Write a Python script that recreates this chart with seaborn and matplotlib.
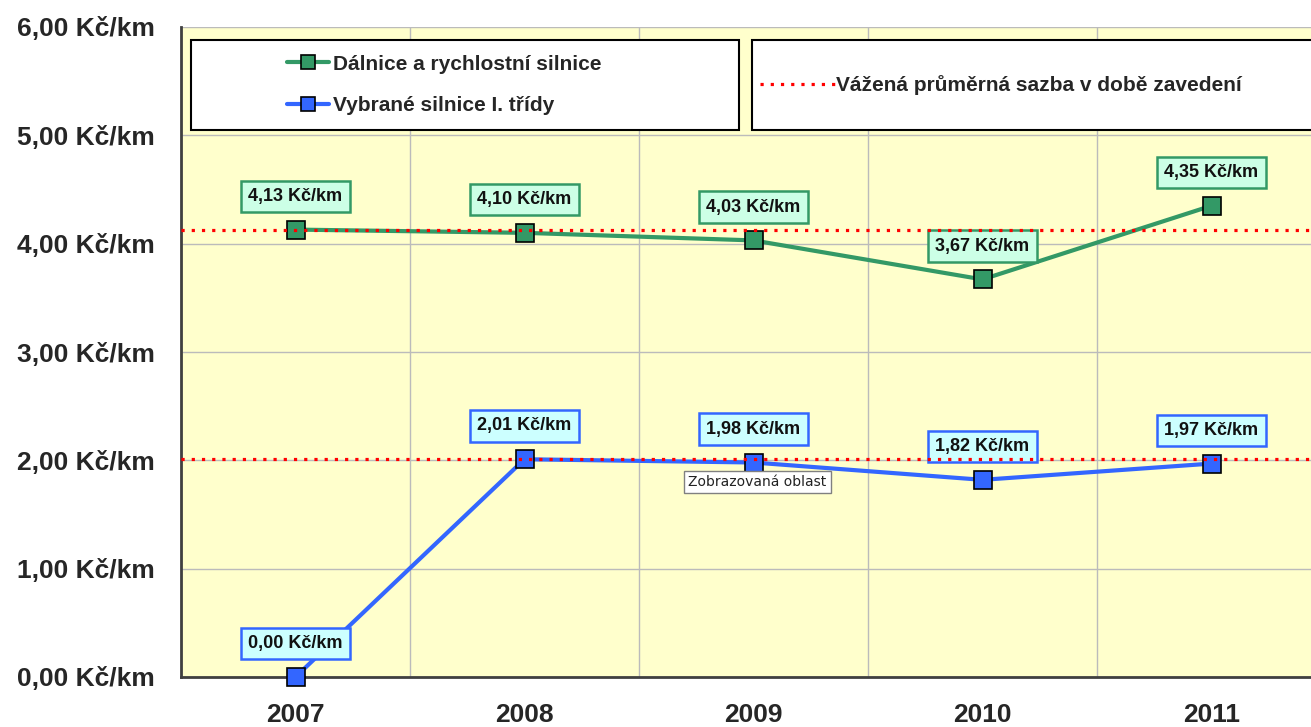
import matplotlib
matplotlib.use("Agg")
import matplotlib.pyplot as plt
import seaborn as sns
import pandas as pd
from matplotlib.patches import Rectangle
from matplotlib.lines import Line2D

# ---- data ----
years = [2007, 2008, 2009, 2010, 2011]
dalnice = [4.13, 4.10, 4.03, 3.67, 4.35]
silnice = [0.00, 2.01, 1.98, 1.82, 1.97]
ref_dalnice = 4.13
ref_silnice = 2.01
series_names = ["Dálnice a rychlostní silnice", "Vybrané silnice I. třídy"]
ref_label = "Vážená průměrná sazba v době zavedení"
y_ticks = [0, 1, 2, 3, 4, 5, 6]
tooltip_text = "Zobrazovaná oblast"


def fmt(v):
    return f"{v:.2f}".replace(".", ",") + " Kč/km"


sns.set_style("white")
plt.rcParams["font.family"] = ["Liberation Sans", "DejaVu Sans"]

green = "#339966"
blue = "#3366FF"
palette = {series_names[0]: green, series_names[1]: blue}

df = pd.DataFrame({
    "year": years * 2,
    "value": dalnice + silnice,
    "series": [series_names[0]] * len(years) + [series_names[1]] * len(years),
})

fig = plt.figure(figsize=(13.11, 7.27), dpi=100)
ax = fig.add_axes([181 / 1311, 1 - 677 / 727, 1130 / 1311, 650 / 727])
ax.set_facecolor("#FFFFCC")

sns.lineplot(data=df, x="year", y="value", hue="series", palette=palette,
             marker="s", markersize=13, markeredgecolor="black",
             markeredgewidth=1.2, linewidth=3, ax=ax, legend=False, zorder=4)
for ln in ax.lines:
    ln.set_clip_on(False)

# reference lines
ref_style = dict(color="red", linestyle=(0, (1, 2.2)), linewidth=2.3, zorder=7)
ax.axhline(ref_dalnice, **ref_style)
ax.axhline(ref_silnice, **ref_style)

# data labels
for vals, ec, fc in [(dalnice, green, "#CCFFE6"), (silnice, blue, "#CCFFFF")]:
    for x, v in zip(years, vals):
        ax.annotate(fmt(v), (x, v), xytext=(0, 24), textcoords="offset points",
                    ha="center", va="center", fontsize=13, fontweight="bold",
                    color="#111111",
                    bbox=dict(boxstyle="square,pad=0.4", fc=fc, ec=ec, lw=1.8),
                    zorder=6, annotation_clip=False)

# tooltip
ax.annotate(tooltip_text, (years[2], silnice[2]), xytext=(-47, -14),
            textcoords="offset points", ha="left", va="center", fontsize=10,
            family="DejaVu Sans", color="#222222",
            bbox=dict(boxstyle="square,pad=0.3", fc="white", ec="#808080", lw=1),
            zorder=9)

# axes formatting
ax.set_yticks(y_ticks)
ax.set_yticklabels([fmt(v) for v in y_ticks])
ax.set_xticks(years)
ax.set_xticklabels([str(y) for y in years])
ax.set_xticks([2006.5 + i for i in range(5)], minor=True)
ax.set_xlim(2006.5, 2006.5 + 1130 / 229)
ax.set_ylim(0, 6)
ax.tick_params(axis="y", which="major", length=7, width=1.5, direction="out",
               pad=12, labelsize=19, color="#404040")
ax.tick_params(axis="x", which="major", length=0, pad=19, labelsize=19)
ax.tick_params(axis="x", which="minor", length=8, width=1.5, direction="out",
               color="#404040")
for lab in ax.get_xticklabels() + ax.get_yticklabels():
    lab.set_fontweight("bold")
ax.grid(axis="y", which="major", color="#BBBBBB", lw=1)
ax.grid(axis="x", which="minor", color="#BBBBBB", lw=1)
ax.set_xlabel("")
ax.set_ylabel("")
for s in ["top", "right"]:
    ax.spines[s].set_visible(False)
for s in ["left", "bottom"]:
    ax.spines[s].set_color("#404040")
    ax.spines[s].set_linewidth(2)

# legend boxes
box_y = (677 - 130) / 650
box_h = 90 / 650
ax.add_patch(Rectangle(((191 - 181) / 1130, box_y), 548 / 1130, box_h,
                       transform=ax.transAxes, fc="white", ec="black", lw=1.5,
                       zorder=10, clip_on=False))
ax.add_patch(Rectangle(((752 - 181) / 1130, box_y), 600 / 1130, box_h,
                       transform=ax.transAxes, fc="white", ec="black", lw=1.5,
                       zorder=10, clip_on=False))

handles1 = [Line2D([], [], color=palette[n], lw=3, marker="s", markersize=10,
                   markeredgecolor="black", markeredgewidth=1.2)
            for n in series_names]
leg1 = ax.legend(handles1, series_names, loc="center",
                 bbox_to_anchor=(0.233, (677 - 85) / 650), frameon=False,
                 prop={"weight": "bold", "size": 15}, handlelength=2.0,
                 handletextpad=0.2, labelspacing=1.1, borderpad=0)
leg1.set_zorder(11)
ax.add_artist(leg1)

handles2 = [Line2D([], [], **{k: v for k, v in ref_style.items() if k != "zorder"})]
leg2 = ax.legend(handles2, [ref_label], loc="center left",
                 bbox_to_anchor=((760 - 181) / 1130, (677 - 85) / 650),
                 frameon=False, prop={"weight": "bold", "size": 15},
                 handlelength=3.6, handletextpad=0.05, borderpad=0,
                 borderaxespad=0)
leg2.set_zorder(11)

fig.savefig("out.png", dpi=100)
